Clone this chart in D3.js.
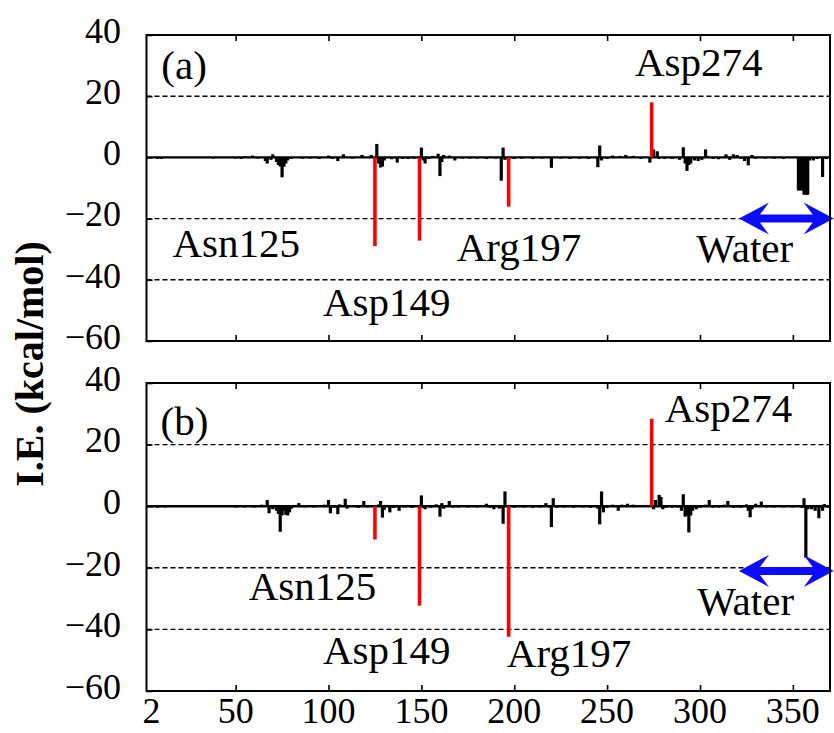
<!DOCTYPE html>
<html>
<head>
<meta charset="utf-8">
<script src="https://cdn.jsdelivr.net/npm/d3@7"></script>
<style>
  body { margin: 0; background: #fff; }
  svg { display: block; }
  text { font-family: "Liberation Serif", "Times New Roman", serif; fill: #000; }
</style>
</head>
<body>
<svg id="chart" width="834" height="733"></svg>
<script>
// Axis ticks
const xTickValues = [2, 50, 100, 150, 200, 250, 300, 350];
const yTickValues = [40, 20, 0, -20, -40, -60];
const gridValues = [20, -20, -40];

// Key residues (highlighted in red)
const keyResidues = [125, 149, 197, 274];
const keyNames = ["Asn125", "Asp149", "Arg197", "Asp274"];
const keyEnergyA = [-29.0, -27.2, -16.1, 18.0];
const keyEnergyB = [-10.8, -32.3, -42.4, 28.4];

// Residue-wise interaction energies, panel (a): [residue, kcal/mol]
const residueEnergyA = [
  [8,-0.5],[10,-0.5],[38,-0.4],[50,-0.4],[53,-0.5],[55,0.4],[59,0.6],[62,-0.4],
  [66,-1.2],[67,-2.0],[69,-0.8],[70,1.0],[72,-1.5],[73,-2.5],[74,-3.0],[75,-6.5],
  [76,-3.0],[77,-2.0],[78,-1.0],[80,-0.5],[86,-0.4],[90,-0.4],[95,-0.5],[100,0.6],
  [102,-0.5],[105,-1.2],[108,1.0],[113,-0.4],[118,0.8],[123,0.8],[126,4.4],[127,-2.0],
  [128,-3.3],[129,-3.0],[130,-1.0],[134,-0.6],[137,-1.7],[140,-0.5],[143,-0.5],[146,-0.4],
  [150,3.2],[151,-1.0],[152,-2.0],[154,-0.5],[156,0.5],[159,1.2],[160,-6.1],[161,-1.5],
  [162,0.8],[165,0.6],[168,-1.0],[172,-0.4],[176,-0.4],[180,-0.4],[185,-0.5],[190,-0.4],
  [193,-7.6],[194,3.2],[195,-0.8],[200,-0.5],[204,-0.4],[210,-0.5],[215,-0.4],[220,-3.4],
  [225,-0.4],[230,-0.5],[235,-0.4],[240,-0.5],[245,-3.2],[246,3.9],[247,-1.0],[250,-0.5],
  [253,0.6],[257,0.5],[260,0.8],[264,0.5],[268,-0.5],[273,-1.7],[275,2.6],[277,2.0],
  [278,-0.5],[281,-0.5],[285,-0.5],[289,-0.8],[291,3.3],[292,-2.0],[293,-4.4],[294,-2.5],
  [295,-2.0],[297,-1.0],[299,-1.2],[301,-0.8],[303,2.6],[304,0.5],[307,-0.5],[310,-0.6],
  [314,1.0],[316,-0.8],[318,1.0],[320,0.8],[322,-0.5],[324,-1.2],[326,-2.6],[328,0.8],
  [330,-0.4],[335,-0.4],[340,-0.4],[345,-0.5],[353,-10.8],[354,-10.8],[355,-10.8],
  [356,-12.2],[357,-12.2],[358,-12.2],[359,-1.0],[361,-1.0],[363,-0.5],[366,-6.4],[368,-0.5]
];

// Residue-wise interaction energies, panel (b): [residue, kcal/mol]
const residueEnergyB = [
  [8,-0.5],[12,-0.4],[50,-0.4],[55,-0.4],[60,-0.4],[64,0.5],[67,2.0],[68,-2.3],
  [70,-1.0],[72,-1.5],[73,-2.5],[74,-8.3],[75,-3.0],[76,-1.5],[77,-2.8],[78,-3.0],
  [79,-2.0],[80,-0.8],[84,1.0],[87,-0.4],[92,-0.4],[98,0.5],[100,2.0],[101,-2.3],
  [103,-0.5],[105,-2.6],[106,0.6],[109,2.4],[110,-0.8],[113,0.4],[116,-0.5],[119,1.7],
  [121,-0.4],[127,0.6],[128,1.7],[129,-3.7],[130,-1.2],[133,-2.0],[135,-0.6],[138,-1.5],
  [141,-0.4],[145,-0.5],[150,3.5],[151,-0.5],[152,-1.0],[155,-0.5],[158,0.6],[160,-3.4],
  [161,1.0],[162,-0.8],[165,1.7],[167,-0.5],[170,-0.4],[175,-0.4],[180,-0.4],[185,0.8],
  [187,-0.5],[189,-1.0],[192,-0.8],[194,-5.7],[195,4.8],[200,-0.5],[205,-0.4],[210,-0.5],
  [214,-0.4],[217,1.0],[219,-0.5],[220,-6.8],[221,2.6],[223,-0.5],[227,-0.4],[232,-0.5],
  [237,-0.4],[241,-0.5],[245,-0.8],[246,-5.9],[247,4.8],[248,-2.0],[250,-0.5],[253,0.5],
  [256,-1.5],[258,0.5],[261,0.8],[264,0.5],[275,-1.0],[276,2.0],[278,3.7],[279,3.0],
  [280,-1.0],[282,-0.5],[285,-0.5],[288,-0.4],[290,-1.5],[291,3.9],[292,-3.4],[293,-3.0],
  [294,-8.5],[295,-3.0],[296,-1.5],[298,-1.0],[300,-0.5],[303,0.5],[305,2.0],[307,-0.5],
  [310,-0.4],[313,0.5],[315,1.7],[318,-0.5],[320,-0.4],[322,-0.5],[325,0.6],[326,-1.5],
  [327,-3.6],[328,-1.0],[330,0.8],[333,1.5],[336,-0.4],[340,-0.4],[345,-0.4],[350,-0.4],
  [355,-0.6],[356,2.6],[357,-16.7],[358,-1.0],[360,-1.0],[362,-1.5],[364,-3.9],[366,-1.5],
  [367,0.7],[369,-0.5]
];

// Water residues span (blue double arrow)
const waterSpan = [321, 372];

// Label placement (residue, energy of the text baseline start) per panel
const labelLayoutA = [
  { text: "(a)",    x: 10,  y: 25.7 },
  { text: "Asn125", x: 16,  y: -32.7 },
  { text: "Asp149", x: 97,  y: -51.7 },
  { text: "Arg197", x: 169, y: -33.8 },
  { text: "Asp274", x: 265, y: 26.7 },
  { text: "Water",  x: 298, y: -34.3 }
];
const labelLayoutB = [
  { text: "(b)",    x: 9.6, y: 23.2 },
  { text: "Asn125", x: 57,  y: -30.5 },
  { text: "Asp149", x: 97,  y: -51.1 },
  { text: "Arg197", x: 196, y: -52.2 },
  { text: "Asp274", x: 281, y: 27.5 },
  { text: "Water",  x: 298.5, y: -35.4 }
];

const svg = d3.select("#chart");
svg.append("rect").attr("width", 834).attr("height", 733).attr("fill", "#fff");

const left = 146.5, right = 830;
const x = d3.scaleLinear().domain([2, 370]).range([left, right]);

const panels = [
  { top: 35,  bottom: 341, bars: residueEnergyA, key: keyEnergyA, labels: labelLayoutA, waterY: -20, xLabels: false },
  { top: 383, bottom: 691, bars: residueEnergyB, key: keyEnergyB, labels: labelLayoutB, waterY: -21, xLabels: true }
];

panels.forEach(p => {
  const y = d3.scaleLinear().domain([-60, 40]).range([p.bottom, p.top]);
  const g = svg.append("g");

  // dashed reference lines
  g.selectAll("line.grid").data(gridValues).join("line")
    .attr("x1", left).attr("x2", right)
    .attr("y1", d => y(d)).attr("y2", d => y(d))
    .attr("stroke", "#000").attr("stroke-width", 1.4)
    .attr("stroke-dasharray", "5,3");

  // zero line
  g.append("line")
    .attr("x1", left).attr("x2", right)
    .attr("y1", y(0)).attr("y2", y(0))
    .attr("stroke", "#000").attr("stroke-width", 2.4);

  // residue bars
  g.selectAll("line.bar").data(p.bars).join("line")
    .attr("x1", d => x(d[0])).attr("x2", d => x(d[0]))
    .attr("y1", y(0)).attr("y2", d => y(d[1]))
    .attr("stroke", "#000").attr("stroke-width", 3.2);

  // key residues
  g.selectAll("line.key").data(keyResidues.map((r, i) => [r, p.key[i]])).join("line")
    .attr("x1", d => x(d[0])).attr("x2", d => x(d[0]))
    .attr("y1", y(0)).attr("y2", d => y(d[1]))
    .attr("stroke", "#ff0000").attr("stroke-width", 3.6);

  // water double arrow
  const x0 = x(waterSpan[0]), x1 = x(waterSpan[1]), yc = y(p.waterY);
  const L = 30, H = 16, w = 4, n = 9;
  const path = d3.path();
  path.moveTo(x0, yc);
  path.lineTo(x0 + L, yc - H);
  path.lineTo(x0 + L - n, yc - w);
  path.lineTo(x1 - L + n, yc - w);
  path.lineTo(x1 - L, yc - H);
  path.lineTo(x1, yc);
  path.lineTo(x1 - L, yc + H);
  path.lineTo(x1 - L + n, yc + w);
  path.lineTo(x0 + L - n, yc + w);
  path.lineTo(x0 + L, yc + H);
  path.closePath();
  g.append("path").attr("d", path.toString()).attr("fill", "#0b0bff");

  // axes
  const yAxis = g.append("g").attr("transform", `translate(${left},0)`)
    .call(d3.axisLeft(y).tickValues(yTickValues).tickSize(-6).tickPadding(25.5).tickFormat(d3.format("d")));
  yAxis.select(".domain").remove();
  yAxis.selectAll("line").attr("stroke-width", 1.6);
  yAxis.selectAll("text").attr("dy", "0.2em").style("font-size", "36px");

  const xTop = g.append("g").attr("transform", `translate(0,${p.top})`)
    .call(d3.axisTop(x).tickValues(xTickValues.slice(1)).tickSize(-6).tickFormat(""));
  xTop.select(".domain").remove();
  xTop.selectAll("line").attr("stroke-width", 1.6);

  const xBot = g.append("g").attr("transform", `translate(0,${p.bottom})`)
    .call(d3.axisBottom(x).tickValues(xTickValues.slice(1)).tickSize(-6).tickFormat(""));
  xBot.select(".domain").remove();
  xBot.selectAll("line").attr("stroke-width", 1.6);

  if (p.xLabels) {
    g.selectAll("text.xl").data(xTickValues).join("text")
      .attr("x", (d, i) => x(d) + (i === 0 ? 5 : 0))
      .attr("y", p.bottom + 32)
      .attr("text-anchor", "middle")
      .style("font-size", "36px")
      .text(d => d);
  }

  // frame
  g.append("rect")
    .attr("x", left).attr("y", p.top)
    .attr("width", right - left).attr("height", p.bottom - p.top)
    .attr("fill", "none").attr("stroke", "#000").attr("stroke-width", 2);

  // annotations
  g.selectAll("text.ann").data(p.labels).join("text")
    .attr("x", d => x(d.x)).attr("y", d => y(d.y))
    .style("font-size", "41px")
    .text(d => d.text);
});

// y-axis title
svg.append("text")
  .attr("transform", "translate(43,364) rotate(-90)")
  .attr("text-anchor", "middle")
  .style("font-size", "40px")
  .style("font-weight", "bold")
  .text("I.E. (kcal/mol)");
</script>
</body>
</html>
